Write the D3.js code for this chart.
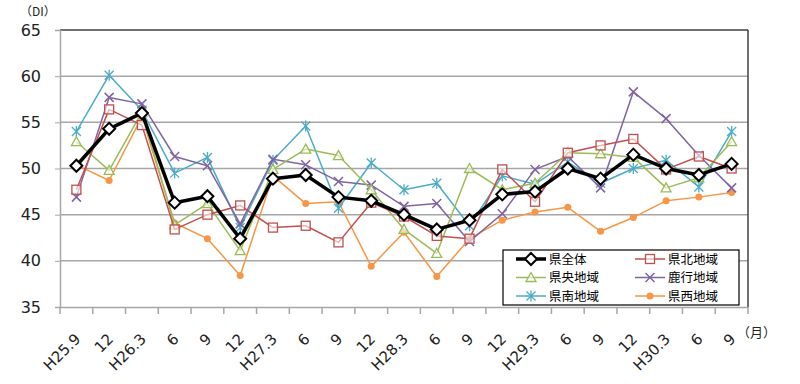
<!DOCTYPE html>
<html><head><meta charset="utf-8">
<script src="https://cdn.jsdelivr.net/npm/d3@7"></script>
<style>body{margin:0;background:#fff}svg{display:block}</style>
</head><body>
<script>
const categories = ["H25.9","12","H26.3","6","9","12","H27.3","6","9","12","H28.3","6","9","12","H29.3","6","9","12","H30.3","6","9"];
const yTicks = [35,40,45,50,55,60,65];
const kenzentai = [50.3,54.3,56.0,46.3,47.0,42.4,48.9,49.3,46.9,46.5,45.0,43.4,44.4,47.2,47.5,50.0,48.9,51.5,50.0,49.3,50.5];
const kenpoku   = [47.7,56.4,54.7,43.4,45.0,46.0,43.6,43.8,42.0,46.3,44.8,42.7,42.4,49.9,46.4,51.7,52.5,53.2,49.9,51.3,50.0];
const kenou     = [52.9,49.8,56.1,43.9,46.2,41.1,49.9,52.1,51.4,47.7,43.4,40.8,50.0,47.7,48.4,51.7,51.6,51.2,47.9,49.0,52.9];
const rokkou    = [46.9,57.7,57.0,51.3,50.3,44.0,51.0,50.4,48.6,48.2,45.9,46.2,42.1,45.1,49.9,51.3,47.9,58.3,55.4,51.4,47.9];
const kennan    = [54.0,60.1,56.3,49.5,51.2,43.6,50.9,54.6,45.7,50.6,47.7,48.4,43.8,49.2,48.3,50.7,48.4,50.0,50.9,48.0,54.0];
const kensei    = [50.4,48.7,55.6,44.1,42.4,38.4,49.2,46.2,46.4,39.4,43.1,38.3,42.4,44.4,45.3,45.8,43.2,44.7,46.5,46.9,47.4];
const seriesNames = ["県全体","県北地域","県央地域","鹿行地域","県南地域","県西地域"];
const seriesData = [kenzentai,kenpoku,kenou,rokkou,kennan,kensei];
const colors = ["#000000","#c0504d","#9bbb59","#8064a2","#4bacc6","#f79646"];
const markers = ["diamond","square","triangle","x","star","circle"];
const widths = [3.5,1.5,1.5,1.5,1.5,1.5];

const W=800,H=384;
const L=60,R=748,T=30,B=307;
const svg=d3.select("body").append("svg").attr("width",W).attr("height",H);
svg.append("rect").attr("width",W).attr("height",H).attr("fill","#fff");

const x=d3.scaleBand().domain(d3.range(categories.length)).range([L,R]);
const y=d3.scaleLinear().domain([35,65]).range([B,T]);
const cx=i=>x(i)+x.bandwidth()/2;

svg.append("g").selectAll("line").data(yTicks.filter(v=>v>35&&v<65)).join("line")
  .attr("x1",L).attr("x2",R).attr("y1",d=>y(d)).attr("y2",d=>y(d))
  .attr("stroke","#a6a6a6").attr("stroke-width",1.5);
svg.append("line").attr("x1",L).attr("x2",R).attr("y1",y(65)).attr("y2",y(65)).attr("stroke","#404040").attr("stroke-width",1.5);
svg.append("line").attr("x1",R).attr("x2",R).attr("y1",T).attr("y2",B).attr("stroke","#404040").attr("stroke-width",1.5);

const yAxis=d3.axisLeft(y).tickValues(yTicks).tickSize(5).tickPadding(14);
const gy=svg.append("g").attr("transform",`translate(${L},0)`).call(yAxis);
gy.select(".domain").attr("stroke","#a6a6a6").attr("stroke-width",1.5);
gy.selectAll(".tick line").attr("stroke","#a6a6a6");
gy.selectAll("text").attr("font-family","DejaVu Sans, Verdana, sans-serif").attr("font-size",16).attr("fill","#222");

const xAxis=d3.axisBottom(x).tickSize(0).tickFormat(i=>categories[i]);
const gx=svg.append("g").attr("transform",`translate(0,${B})`).call(xAxis);
gx.select(".domain").attr("stroke","#a6a6a6").attr("stroke-width",1.5);
gx.selectAll(".tick text").attr("font-family","DejaVu Sans, Verdana, sans-serif").attr("font-size",15).attr("fill","#222")
  .attr("text-anchor","end").attr("y",0).attr("dy",0).attr("transform","translate(5,33) rotate(-45)");
const bounds=d3.range(categories.length+1).map(i=>L+i*x.bandwidth());
svg.append("g").selectAll("line").data(bounds).join("line")
  .attr("x1",d=>d).attr("x2",d=>d).attr("y1",B).attr("y2",B+7).attr("stroke","#a6a6a6").attr("stroke-width",1.5);

function drawMarker(g,type,color,px,py){
  if(type==="diamond"){
    g.append("path").attr("d",`M${px},${py-6}L${px+6},${py}L${px},${py+6}L${px-6},${py}Z`).attr("fill","#fff").attr("stroke",color).attr("stroke-width",2);
  } else if(type==="square"){
    g.append("rect").attr("x",px-4.5).attr("y",py-4.5).attr("width",9).attr("height",9).attr("fill","#fff").attr("fill-opacity",0.6).attr("stroke",color).attr("stroke-width",1.3);
  } else if(type==="triangle"){
    g.append("path").attr("d",`M${px},${py-5}L${px+5},${py+4}L${px-5},${py+4}Z`).attr("fill","#fff").attr("fill-opacity",0.6).attr("stroke",color).attr("stroke-width",1.3);
  } else if(type==="x"){
    g.append("path").attr("d",`M${px-4.5},${py-4.5}L${px+4.5},${py+4.5}M${px-4.5},${py+4.5}L${px+4.5},${py-4.5}`).attr("stroke",color).attr("stroke-width",1.5);
  } else if(type==="star"){
    g.append("path").attr("d",`M${px-4.5},${py-4.5}L${px+4.5},${py+4.5}M${px-4.5},${py+4.5}L${px+4.5},${py-4.5}M${px},${py-5.5}L${px},${py+5.5}`).attr("stroke",color).attr("stroke-width",1.3);
  } else if(type==="circle"){
    g.append("circle").attr("cx",px).attr("cy",py).attr("r",3.5).attr("fill",color);
  }
}

const line=d3.line().x((d,i)=>cx(i)).y(d=>y(d));
const order=[5,4,3,2,1,0];
order.forEach(k=>{
  const g=svg.append("g");
  g.append("path").datum(seriesData[k]).attr("d",line).attr("fill","none").attr("stroke",colors[k]).attr("stroke-width",widths[k]).attr("stroke-linejoin","round");
  seriesData[k].forEach((v,i)=>drawMarker(g,markers[k],colors[k],cx(i),y(v)));
});

const lg=svg.append("g");
lg.append("rect").attr("x",503).attr("y",250).attr("width",236).attr("height",55).attr("fill","#fff").attr("stroke","#000").attr("stroke-width",1.2);
const legPos=[[516,259],[635,259],[516,277.5],[635,277.5],[516,296],[635,296]];
seriesNames.forEach((n,k)=>{
  const [lx,ly]=legPos[k];
  lg.append("line").attr("x1",lx).attr("x2",lx+30).attr("y1",ly).attr("y2",ly).attr("stroke",colors[k]).attr("stroke-width",widths[k]);
  drawMarker(lg,markers[k],colors[k],lx+15,ly);
  lg.append("text").attr("x",lx+33).attr("y",ly).attr("dy","0.36em").attr("font-family","Noto Sans CJK JP").attr("font-size",12.5).attr("fill","#000").text(n);
});

svg.append("text").attr("x",20).attr("y",16).attr("font-family","Noto Sans CJK JP").attr("font-size",12).attr("fill","#222").text("（DI）");
svg.append("text").attr("x",737).attr("y",337).attr("font-family","Noto Sans CJK JP").attr("font-size",13).attr("fill","#222").text("（月）");
</script>
</body></html>
